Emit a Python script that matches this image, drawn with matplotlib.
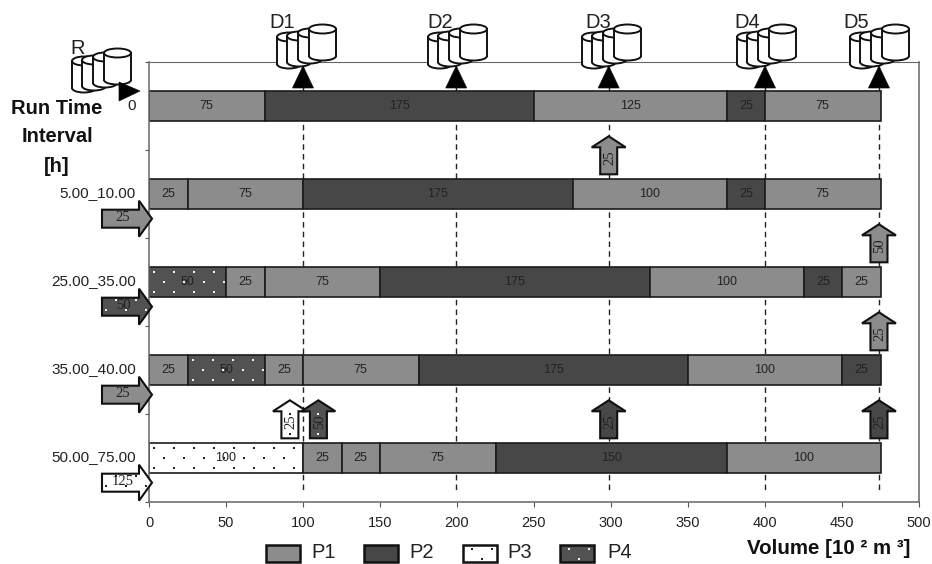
import matplotlib
matplotlib.use('Agg')
import matplotlib.pyplot as plt
import numpy as np
from matplotlib.lines import Line2D
from matplotlib.patches import Ellipse, Polygon, Rectangle
from matplotlib.transforms import Affine2D

# pipeline batches per time interval
interval_labels = ['0', '5.00_10.00', '25.00_35.00', '35.00_40.00', '50.00_75.00']
row_products = [
    ['P1', 'P2', 'P1', 'P2', 'P1'],
    ['P1', 'P1', 'P2', 'P1', 'P2', 'P1'],
    ['P4', 'P1', 'P1', 'P2', 'P1', 'P2', 'P1'],
    ['P1', 'P4', 'P1', 'P1', 'P2', 'P1', 'P2'],
    ['P3', 'P1', 'P1', 'P1', 'P2', 'P1'],
]
row_volumes = [
    [75, 175, 125, 25, 75],
    [25, 75, 175, 100, 25, 75],
    [50, 25, 75, 175, 100, 25, 25],
    [25, 50, 25, 75, 175, 100, 25],
    [100, 25, 25, 75, 150, 100],
]
x_ticks = [0, 50, 100, 150, 200, 250, 300, 350, 400, 450, 500]
depot_names = ['D1', 'D2', 'D3', 'D4', 'D5']
depot_positions = [100, 199.5, 298.5, 400, 474]

# injections at the refinery: row, product, amount
input_rows = [1, 2, 3, 4]
input_products = ['P1', 'P4', 'P1', 'P3']
input_amounts = ['25', '50', '25', '125']

# deliveries to depots: row below the arrow, position, product, amount
output_rows = [1, 2, 3, 4, 4, 4, 4]
output_positions = [298.5, 474, 474, 91.5, 110, 298.5, 474]
output_products = ['P1', 'P1', 'P1', 'P3', 'P4', 'P2', 'P2']
output_amounts = ['25', '50', '25', '25', '50', '25', '25']

legend_names = ['P1', 'P2', 'P3', 'P4']

fills = {'P1': '#8c8c8c', 'P2': '#474747', 'P3': '#ffffff', 'P4': '#525252'}
dot_colors = {'P3': '#222222', 'P4': '#f2f2f2'}

W, H = 932, 564
plt.rcParams['font.family'] = ['Liberation Sans', 'DejaVu Sans']

fig = plt.figure(figsize=(W / 100, H / 100), dpi=100)
ax = fig.add_axes([149 / W, 1 - 502 / H, 770 / W, 440 / H])
ax.set_xlim(0, 500)
ax.set_ylim(4.5, -0.5)

# image pixel coordinates, y going down
px = Affine2D().scale(1, -1).translate(0, H)


def to_px(v, row):
    x, y = ax.transData.transform((v, row))
    return x, H - y


def add_dots(target, patch, x0, x1, y0, y1, color, z):
    xs, ys = [], []
    for i, y in enumerate(np.arange(y0, y1, 10)):
        for x in np.arange(x0 + (10 if i % 2 else 0), x1, 20):
            xs.append(x)
            ys.append(y)
    dots = Line2D(xs, ys, ls='none', marker='s', ms=1.9, mew=0, color=color,
                  transform=px, zorder=z)
    dots.set_clip_path(patch)
    target.add_artist(dots)


for row, (products, volumes) in enumerate(zip(row_products, row_volumes)):
    left = 0
    for product, volume in zip(products, volumes):
        rect = ax.barh(row, volume, left=left, height=0.335, color=fills[product],
                       edgecolor='#1c1c1c', linewidth=1.2, zorder=2)[0]
        if product in dot_colors:
            x0, y0 = to_px(left, row - 0.167)
            x1, _ = to_px(left + volume, row)
            add_dots(ax, rect, x0 + 5, x1, y0 + 5, y0 + 32, dot_colors[product], 3)
        ax.text(left + volume / 2, row + 0.005, str(volume), ha='center', va='center',
                fontsize=9, color='#222222', zorder=4)
        left += volume

# dashed depot lines run behind the bars
for pos in depot_positions:
    ax.plot([pos, pos], [-0.45, 4.37], color='#222222', lw=1.0, ls=(0, (4, 3)), zorder=1)

for side in ['top', 'right', 'left', 'bottom']:
    ax.spines[side].set_color('#666666')
    ax.spines[side].set_linewidth(1.1)
ax.spines['top'].set_linewidth(0.8)

ax.set_xticks(x_ticks)
ax.tick_params(axis='x', length=3.5, color='#555555', pad=6.5, labelsize=10.5, labelcolor='#222222')
ax.set_yticks(np.arange(-0.5, 5, 1))
ax.set_yticklabels([])
ax.tick_params(axis='y', which='major', length=3, color='#555555')
ax.set_yticks(range(5), interval_labels, minor=True)
ax.tick_params(axis='y', which='minor', length=0, pad=9.5, labelsize=11, labelcolor='#222222')
# row labels sit a little above the bar centre
for tick in ax.yaxis.get_minor_ticks():
    tick.label1.set_transform(tick.label1.get_transform() + Affine2D().translate(0, 2))


def add_polygon(points, fc, lw=1.5):
    patch = Polygon(points, closed=True, fc=fc, ec='#111111', lw=lw, transform=px,
                    zorder=5, joinstyle='miter')
    fig.add_artist(patch)
    return patch


def right_arrow(row, product, amount):
    _, bottom = to_px(0, row + 0.167)
    c = bottom + 10
    patch = add_polygon([(102, c - 9), (139, c - 9), (139, c - 18), (152, c), (139, c + 18),
                         (139, c + 9), (102, c + 9)], fills[product])
    if product in dot_colors:
        add_dots(fig, patch, 106, 152, c - 17, c + 18, dot_colors[product], 6)
    fig.text(123, c - 1, amount, family='Liberation Serif', fontsize=10.5, color='#222222',
             ha='center', va='center', transform=px, zorder=7)


def up_arrow(row, pos, product, amount):
    x, top = to_px(pos, row - 0.167)
    b = top - 5
    t = b - 38
    patch = add_polygon([(x - 8.5, b), (x - 8.5, t + 11), (x - 17, t + 11), (x, t), (x + 17, t + 11),
                         (x + 8.5, t + 11), (x + 8.5, b)], fills[product])
    if product in dot_colors:
        add_dots(fig, patch, x - 10, x + 12, t + 4, b, dot_colors[product], 6)
    fig.text(x + 1, b - 17, amount, family='Liberation Serif', fontsize=10.5, rotation=90, color='#222222',
             ha='center', va='center', transform=px, zorder=7)


def cylinder(x, top, w, h):
    ry = 4.5
    style = dict(fc='white', ec='#111111', lw=1.4, transform=px, zorder=5)
    fig.add_artist(Ellipse((x + w / 2, top + h), w, ry * 2, **style))
    fig.add_artist(Rectangle((x, top), w, h, fc='white', ec='none', transform=px, zorder=5))
    for side in [x, x + w]:
        fig.add_artist(Line2D([side, side], [top, top + h], color='#111111', lw=1.4, transform=px, zorder=5))
    fig.add_artist(Ellipse((x + w / 2, top), w, ry * 2, **style))


def cylinder_stack(left, top):
    cylinder(left, top + 9, 24, 27)
    cylinder(left + 10, top + 8, 24, 26)
    cylinder(left + 21, top + 5, 24, 26)
    cylinder(left + 32, top + 1, 27, 27)


for row, product, amount in zip(input_rows, input_products, input_amounts):
    right_arrow(row, product, amount)

for row, pos, product, amount in zip(output_rows, output_positions, output_products, output_amounts):
    up_arrow(row, pos, product, amount)

# depots and refinery on top of the chart frame
stack_lefts = [277, 428, 582, 737, 850]
label_lefts = [269, 427, 585, 734, 843]
for name, pos, stack_left, label_left in zip(depot_names, depot_positions, stack_lefts, label_lefts):
    cylinder_stack(stack_left, 28)
    x, _ = to_px(pos, 0)
    add_polygon([(x, 66), (x + 10.5, 88), (x - 10.5, 88)], 'black', lw=0.5)
    fig.text(label_left, 22, name, fontsize=14.5, color='#222222', ha='left', va='center',
             transform=px, zorder=7)

cylinder_stack(72, 52)
add_polygon([(119, 82), (140, 91), (119, 101)], 'black', lw=0.5)
fig.text(78, 48, 'R', fontsize=14.5, color='#222222', ha='center', va='center', transform=px, zorder=7)

for y, line in zip([108, 137, 167], ['Run Time', 'Interval', '[h]']):
    fig.text(57, y, line, fontsize=14.5, fontweight='bold', color='#111111', ha='center', va='center',
             transform=px, zorder=7)

fig.text(747, 548, 'Volume [10 ² m ³]', fontsize=14.8, fontweight='bold', color='#111111',
         ha='left', va='center', transform=px, zorder=7)

# legend sits at the very bottom edge, as in the original
legend_boxes = [266, 364, 463, 560]
legend_texts = [311, 409, 507, 607]
for name, box, tx in zip(legend_names, legend_boxes, legend_texts):
    rect = Rectangle((box, 545), 34, 17, fc=fills[name], ec='#111111', lw=1.8, transform=px, zorder=5)
    fig.add_artist(rect)
    if name in dot_colors:
        add_dots(fig, rect, box + 9, box + 34, 549, 562, dot_colors[name], 6)
    fig.text(tx, 553, name, fontsize=14.5, color='#222222', ha='left', va='center', transform=px, zorder=7)

fig.savefig('out.png', dpi=100, facecolor='white')
